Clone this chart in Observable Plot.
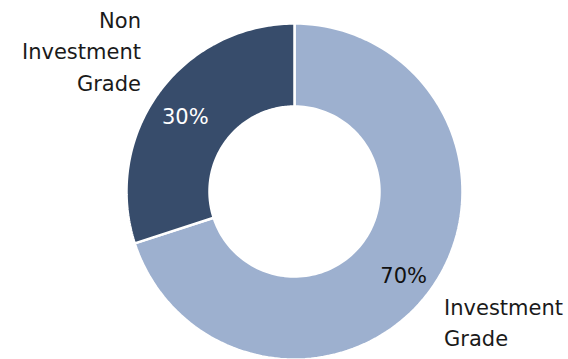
<!DOCTYPE html>
<html>
<head>
<meta charset="utf-8">
<script src="https://cdn.jsdelivr.net/npm/d3@7"></script>
<script src="https://cdn.jsdelivr.net/npm/@observablehq/plot@0.6"></script>
<style>
  html, body { margin: 0; padding: 0; background: #fff; }
  #chart svg { display: block; }
</style>
</head>
<body>
<div id="chart"></div>
<script>
// Data
const categories = ["Investment Grade", "Non Investment Grade"];
const values = [70, 30];
const pctLabels = ["70%", "30%"];
const pctColors = ["#111111", "#ffffff"];
const sliceColors = ["#9db0cf", "#374c6b"];

const W = 568, H = 359;
const cx = 294, cy = 191;      // donut centre in pixels
const R = 168, r0 = 85;        // outer / inner radius

const pie = d3.pie().sort(null).value(d => d.value)
  (categories.map((c, i) => ({cat: c, value: values[i], pct: pctLabels[i], pc: pctColors[i]})));

const pt = (rad, a) => ({x: rad * Math.sin(a), y: -rad * Math.cos(a)});

// Slice outlines from the pie angles
const poly = [];
for (const s of pie) {
  const n = 120;
  const pts = [];
  for (let k = 0; k <= n; k++) pts.push(pt(R, s.startAngle + (s.endAngle - s.startAngle) * k / n));
  for (let k = n; k >= 0; k--) pts.push(pt(r0, s.startAngle + (s.endAngle - s.startAngle) * k / n));
  pts.push(pts[0]);
  for (const p of pts) poly.push({...p, cat: s.data.cat});
}

// Percent labels at slice centroid
const pctData = pie.map(s => {
  const m = (s.startAngle + s.endAngle) / 2;
  return {...pt(135, m), text: s.data.pct, fill: s.data.pc};
});

// Category labels outside the slice mid-angle
const catData = pie.map(s => {
  const m = (s.startAngle + s.endAngle) / 2;
  const p = pt(R + 2, m);
  const right = Math.sin(m) > 0;
  return {...p, text: s.data.cat.replace("Non ", "Non\n").replace(" Grade", "\nGrade"), right};
});

const font = "'DejaVu Sans', sans-serif";
const chart = Plot.plot({
  width: W,
  height: H,
  margin: 0,
  style: {fontFamily: font, background: "#fff"},
  x: {domain: [-cx, W - cx], range: [0, W], axis: null},
  y: {domain: [-cy, H - cy], range: [0, H], axis: null},
  color: {domain: categories, range: sliceColors},
  marks: [
    Plot.line(poly, {x: "x", y: "y", z: "cat", fill: "cat", stroke: "#fff", strokeWidth: 2.5, strokeLinejoin: "miter"}),
    Plot.text(pctData, {x: "x", y: "y", text: "text", fill: d => d.fill, fontSize: 21, dy: 5}),
    Plot.text(catData.filter(d => d.right), {x: "x", y: "y", text: "text", fill: "#1a1a1a", fontSize: 21,
      textAnchor: "start", lineAnchor: "top", lineHeight: 1.5, dx: 12, dy: 1}),
    Plot.text(catData.filter(d => !d.right), {x: "x", y: "y", text: "text", fill: "#1a1a1a", fontSize: 21,
      textAnchor: "end", lineAnchor: "bottom", lineHeight: 1.5, dx: -16, dy: -1})
  ]
});
document.getElementById("chart").appendChild(chart);
</script>
</body>
</html>
